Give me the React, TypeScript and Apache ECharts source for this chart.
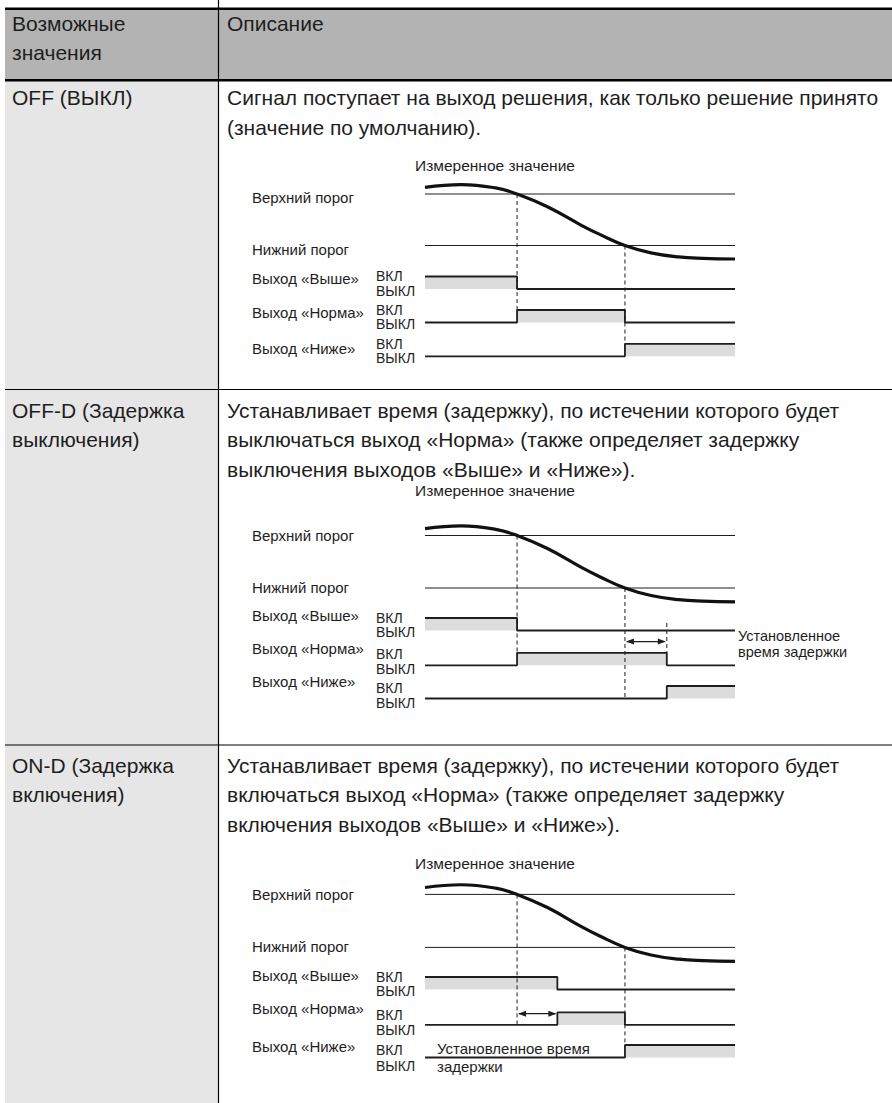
import React, { useEffect, useRef } from "react";
import * as echarts from "echarts";

const FONT_FAMILY = "Liberation Sans";
const INK = "#1e1e1e";

// ---------- table texts ----------
const headerLeft = ["Возможные", "значения"];
const headerRight = ["Описание"];
const rowLeft = [
  ["OFF (ВЫКЛ)"],
  ["OFF-D (Задержка", "выключения)"],
  ["ON-D (Задержка", "включения)"],
];
const rowRight = [
  ["Сигнал поступает на выход решения, как только решение принято", "(значение по умолчанию)."],
  [
    "Устанавливает время (задержку), по истечении которого будет",
    "выключаться выход «Норма» (также определяет задержку",
    "выключения выходов «Выше» и «Ниже»).",
  ],
  [
    "Устанавливает время (задержку), по истечении которого будет",
    "включаться выход «Норма» (также определяет задержку",
    "включения выходов «Выше» и «Ниже»).",
  ],
];

// ---------- diagram texts ----------
const diagramTitle = "Измеренное значение";
const thresholdLabels = ["Верхний порог", "Нижний порог"];
const outputLabels = ["Выход «Выше»", "Выход «Норма»", "Выход «Ниже»"];
const stateLabels = ["ВКЛ", "ВЫКЛ"];
const delayLabelSide = ["Установленное", "время задержки"];
const delayLabelBelow = ["Установленное время", "задержки"];

// ---------- diagram data (time 0..10) ----------
const upperThreshold = 70;
const lowerThreshold = 30;
const timeRange = [0, 10];
const measuredValue = [
  [0, 75.2], [1.17, 77.3], [2.28, 74.7], [2.97, 70], [3.95, 60.1], [5.06, 45.5],
  [5.62, 38.8], [6.45, 30], [7.29, 24.3], [8.18, 21.1], [8.96, 20], [10, 19.5],
];
// [time, state] with 1 = ВКЛ, 0 = ВЫКЛ ; step changes at listed times
const offAbove = [[0, 1], [2.97, 0], [10, 0]];
const offNormal = [[0, 0], [2.97, 1], [6.45, 0], [10, 0]];
const offBelow = [[0, 0], [6.45, 1], [10, 1]];

const offDAbove = [[0, 1], [2.97, 0], [10, 0]];
const offDNormal = [[0, 0], [2.97, 1], [7.8, 0], [10, 0]];
const offDBelow = [[0, 0], [7.8, 1], [10, 1]];

const onDAbove = [[0, 1], [4.27, 0], [10, 0]];
const onDNormal = [[0, 0], [4.27, 1], [6.45, 0], [10, 0]];
const onDBelow = [[0, 0], [6.45, 1], [10, 1]];

// delay arrows: [startTime, endTime, value in «Норма» lane]
const offDDelay = [6.45, 7.8, 1.9];
const onDDelay = [2.97, 4.27, 0.9];

// dashed guides: [time, fromGrid, fromValue, toGrid, toValue]; grid 0=analog,1..3 lanes
const offGuides = [[2.97, 0, 70, 2, 1], [6.45, 0, 30, 3, 1]];
const offDGuides = [[2.97, 0, 70, 2, 1], [6.45, 0, 30, 3, 0], [7.8, 1, 0.6, 2, 1]];
const onDGuides = [[2.97, 0, 70, 2, 0], [6.45, 0, 30, 3, 1]];

// ---------- layout ----------
const X_LEFT = 425;
const X_WIDTH = 310;
const LANE_H = 12.5;
const ROW_SEPS = [389.5, 745];
const ROW_TEXT_Y = [97.5, 410, 765];
const HEADER_TEXT_Y = 23;
const LINE_H = 29.5;
const MAIN_SIZE = 21;
const LABEL_SIZE = 15;
const STATE_SIZE = 14;

const diagrams = [
  {
    signals: [offAbove, offNormal, offBelow], guides: offGuides, delay: null as any,
    upperY: 194, lowerY: 245.5, lanes: [276.5, 310, 343.8], titleY: 165.5,
    thDy: [3, 4], laneDy: [2, 2, 5], onDy: [-0.5, -0.5, 0], offDy: [1.5, 1.5, 2],
  },
  {
    signals: [offDAbove, offDNormal, offDBelow], guides: offDGuides, delay: offDDelay,
    upperY: 535.5, lowerY: 588, lanes: [618, 652.8, 686], titleY: 490,
    thDy: [0, -1], laneDy: [-3, -4, -5], onDy: [-0.5, 1.5, 2], offDy: [1.5, 3.5, 4],
  },
  {
    signals: [onDAbove, onDNormal, onDBelow], guides: onDGuides, delay: onDDelay,
    upperY: 894.4, lowerY: 947.4, lanes: [977, 1012.4, 1045], titleY: 863.5,
    thDy: [0, -1], laneDy: [-2, -4, 1], onDy: [-0.5, 3, 5], offDy: [1.5, 5, 8.5],
  },
];

function txt(x: number, y: number, text: string, size: number, extra: any = {}) {
  return {
    type: "text",
    x,
    y,
    silent: true,
    style: {
      text,
      fill: INK,
      fontFamily: FONT_FAMILY,
      fontSize: size,
      textAlign: "left",
      textVerticalAlign: "middle",
      align: "left",
      verticalAlign: "middle",
      ...extra,
    },
  };
}

function buildTableGraphics(): any[] {
  const g: any[] = [];
  const L = 5, R = 892, DX = 218.5;
  g.push({ type: "rect", shape: { x: L, y: 9, width: R - L, height: 71 }, style: { fill: "#b3b3b3" } });
  g.push({ type: "rect", shape: { x: L, y: 81, width: DX - L, height: 1103 - 81 }, style: { fill: "#e6e6e6" } });
  g.push({ type: "rect", shape: { x: L, y: 7.5, width: R - L, height: 2.5 }, style: { fill: "#000" } });
  g.push({ type: "rect", shape: { x: L, y: 79, width: R - L, height: 2.5 }, style: { fill: "#000" } });
  ROW_SEPS.forEach((y) =>
    g.push({ type: "line", shape: { x1: L, y1: y, x2: R, y2: y }, style: { stroke: "#000", lineWidth: 1.2 } })
  );
  g.push({ type: "line", shape: { x1: DX, y1: 0, x2: DX, y2: 1103 }, style: { stroke: "#000", lineWidth: 1.2 } });

  headerLeft.forEach((s, i) => g.push(txt(12, HEADER_TEXT_Y + i * LINE_H, s, MAIN_SIZE)));
  headerRight.forEach((s, i) => g.push(txt(227, HEADER_TEXT_Y + i * LINE_H, s, MAIN_SIZE)));
  rowLeft.forEach((lines, r) => lines.forEach((s, i) => g.push(txt(12, ROW_TEXT_Y[r] + i * LINE_H, s, MAIN_SIZE))));
  rowRight.forEach((lines, r) => lines.forEach((s, i) => g.push(txt(227, ROW_TEXT_Y[r] + i * LINE_H, s, MAIN_SIZE))));
  return g;
}

function buildBaseOption() {
  const grid: any[] = [];
  const xAxis: any[] = [];
  const yAxis: any[] = [];
  const series: any[] = [];
  diagrams.forEach((d, di) => {
    const k = (d.lowerY - d.upperY) / (upperThreshold - lowerThreshold);
    const base = di * 4;
    grid.push({ left: X_LEFT, width: X_WIDTH, top: d.upperY - (100 - upperThreshold) * k, height: 100 * k });
    xAxis.push({ type: "value", gridIndex: base, min: timeRange[0], max: timeRange[1], show: false });
    yAxis.push({ type: "value", gridIndex: base, min: 0, max: 100, show: false });
    d.lanes.forEach((top, li) => {
      grid.push({ left: X_LEFT, width: X_WIDTH, top, height: LANE_H });
      xAxis.push({ type: "value", gridIndex: base + 1 + li, min: timeRange[0], max: timeRange[1], show: false });
      yAxis.push({ type: "value", gridIndex: base + 1 + li, min: 0, max: 1, show: false });
    });
    const lineCommon = { type: "line", symbol: "none", silent: true, clip: false, animation: false };
    series.push({
      ...lineCommon, xAxisIndex: base, yAxisIndex: base,
      data: [[timeRange[0], upperThreshold], [timeRange[1], upperThreshold]],
      lineStyle: { color: INK, width: 1 }, z: 2,
    });
    series.push({
      ...lineCommon, xAxisIndex: base, yAxisIndex: base,
      data: [[timeRange[0], lowerThreshold], [timeRange[1], lowerThreshold]],
      lineStyle: { color: INK, width: 1 }, z: 2,
    });
    series.push({
      ...lineCommon, xAxisIndex: base, yAxisIndex: base, smooth: 0.45,
      data: measuredValue, lineStyle: { color: "#111", width: 3.2 }, z: 4,
    });
    d.signals.forEach((sig, li) => {
      series.push({
        ...lineCommon, xAxisIndex: base + 1 + li, yAxisIndex: base + 1 + li, step: "end",
        data: sig, lineStyle: { color: INK, width: 1.8 },
        areaStyle: { color: "#dcdcdc", opacity: 1, origin: "start" }, z: 3,
      });
    });
  });
  return {
    animation: false,
    backgroundColor: "#ffffff",
    grid, xAxis, yAxis, series,
  };
}

function buildDiagramGraphics(chart: any): any[] {
  const g: any[] = [];
  diagrams.forEach((d, di) => {
    const base = di * 4;
    const P = (gi: number, x: number, y: number) => chart.convertToPixel({ gridIndex: base + gi }, [x, y]);
    const upY = P(0, 0, upperThreshold)[1];
    const loY = P(0, 0, lowerThreshold)[1];
    g.push(txt(415, d.titleY, diagramTitle, 15.5));
    g.push(txt(252, upY + d.thDy[0], thresholdLabels[0], LABEL_SIZE));
    g.push(txt(252, loY + d.thDy[1], thresholdLabels[1], LABEL_SIZE));
    outputLabels.forEach((s, li) => {
      const onY = P(1 + li, 0, 1)[1];
      const offY = P(1 + li, 0, 0)[1];
      g.push(txt(252, onY + d.laneDy[li], s, LABEL_SIZE));
      g.push(txt(376, onY + d.onDy[li], stateLabels[0], STATE_SIZE));
      g.push(txt(376, offY + d.offDy[li], stateLabels[1], STATE_SIZE));
    });
    d.guides.forEach((gd: number[]) => {
      const a = P(gd[1], gd[0], gd[2]);
      const b = P(gd[3], gd[0], gd[4]);
      g.push({
        type: "line", silent: true, z: 5,
        shape: { x1: a[0], y1: a[1], x2: b[0], y2: b[1] },
        style: { stroke: INK, lineWidth: 1, lineDash: [4, 3] },
      });
    });
    if (d.delay) {
      const a = P(2, d.delay[0], d.delay[2]);
      const b = P(2, d.delay[1], d.delay[2]);
      const y = a[1];
      const ah = 8, aw = 3;
      g.push({ type: "line", silent: true, z: 5, shape: { x1: a[0] + 2, y1: y, x2: b[0] - 2, y2: y }, style: { stroke: INK, lineWidth: 1.2 } });
      g.push({ type: "polygon", silent: true, z: 5, shape: { points: [[a[0] + 1, y], [a[0] + 1 + ah, y - aw], [a[0] + 1 + ah, y + aw]] }, style: { fill: INK } });
      g.push({ type: "polygon", silent: true, z: 5, shape: { points: [[b[0] - 1, y], [b[0] - 1 - ah, y - aw], [b[0] - 1 - ah, y + aw]] }, style: { fill: INK } });
    }
    if (di === 1) {
      const y0 = P(2, 0, 1)[1];
      g.push(txt(738, y0 - 17, delayLabelSide[0], 14.5));
      g.push(txt(738, y0 - 0.5, delayLabelSide[1], 14.5));
    }
    if (di === 2) {
      const y0 = P(3, 0, 0)[1];
      g.push(txt(437, y0 - 9.5, delayLabelBelow[0], LABEL_SIZE));
      g.push(txt(437, y0 + 8.5, delayLabelBelow[1], LABEL_SIZE));
    }
  });
  return g;
}

export default function App() {
  const ref = useRef<HTMLDivElement>(null);
  useEffect(() => {
    if (!ref.current) return;
    const chart = echarts.init(ref.current, undefined, { renderer: "svg" });
    chart.setOption(buildBaseOption() as any);
    const graphics = [...buildTableGraphics(), ...buildDiagramGraphics(chart)];
    chart.setOption({ graphic: { elements: graphics } } as any);
    return () => chart.dispose();
  }, []);
  return (
    <div
      ref={ref}
      style={{ position: "absolute", left: 0, top: 0, width: 892, height: 1103, background: "#fff" }}
    />
  );
}
